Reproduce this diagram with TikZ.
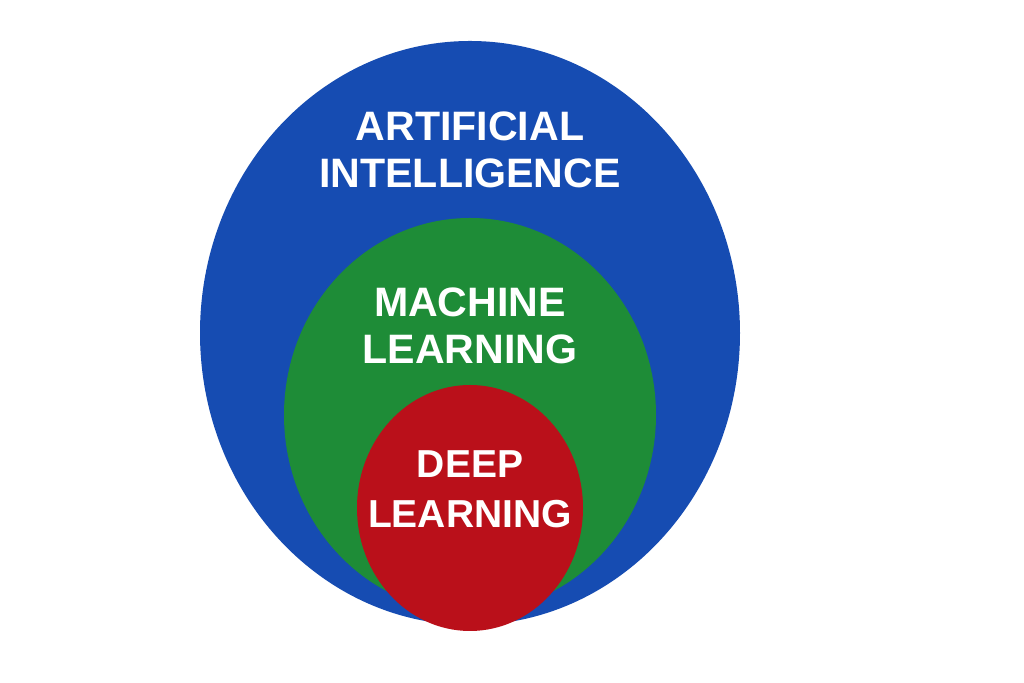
\documentclass[tikz,border=0pt]{standalone}
\usepackage{fontspec}
\setmainfont{Liberation Sans}
\definecolor{aiblue}{RGB}{22,76,178}
\definecolor{mlgreen}{RGB}{30,140,55}
\definecolor{dlred}{RGB}{186,16,26}
\tikzstyle{field}=[ellipse,inner sep=0pt]
\tikzstyle{label}=[text=white,font=\fontsize{23.4}{26.7}\selectfont\bfseries,align=center,inner sep=0pt]
\tikzstyle{smalllabel}=[label,font=\fontsize{22.2}{28.5}\selectfont\bfseries]
\usetikzlibrary{shapes.geometric}

\begin{document}
\begin{tikzpicture}
\useasboundingbox[fill=white] (0,0) rectangle (20.48,13.66);
\node[field,fill=aiblue,minimum width=10.8cm,minimum height=11.68cm] at (9.4, 7.0) (ai) {};
\node[field,fill=mlgreen,minimum width=7.44cm,minimum height=7.88cm] at (9.4, 5.36) (ml) {};
\node[field,fill=dlred,minimum width=4.52cm,minimum height=4.92cm] at (9.4, 3.5) (dl) {};
\node[label] at (9.4, 10.67) (ailabel) {ARTIFICIAL\\INTELLIGENCE};
\node[label] at (9.4, 7.15) (mllabel) {MACHINE\\LEARNING};
\node[smalllabel] at (9.4, 3.88) (dllabel) {DEEP\\LEARNING};
\end{tikzpicture}
\end{document}
